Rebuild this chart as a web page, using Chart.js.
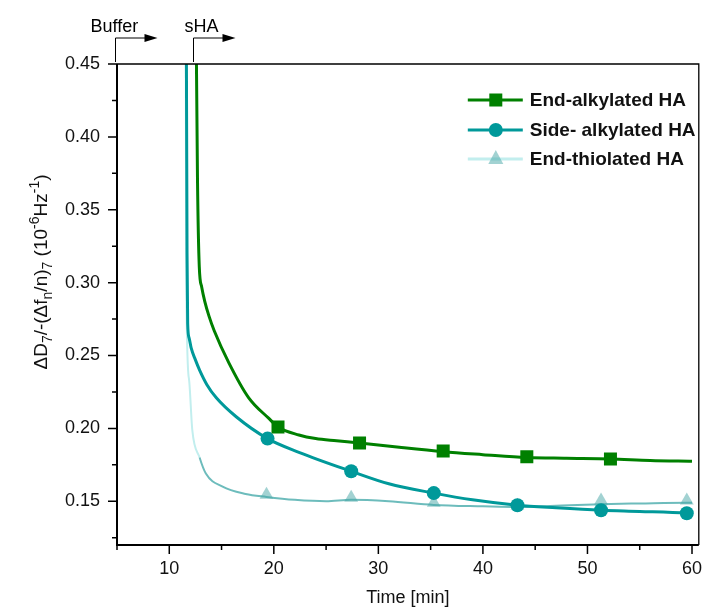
<!DOCTYPE html>
<html>
<head>
  <meta charset="utf-8">
  <title>Dissipation ratio vs time</title>
  <script src="https://cdn.jsdelivr.net/npm/chart.js"></script>
  <style>
    body { margin: 0; background: #fff; }
    .chart-container { width: 708px; height: 612px; }
  </style>
</head>
<body>
  <div class="chart-container">
    <canvas id="ratioChart" width="708" height="612"></canvas>
  </div>

  <script>
    // ---------------------------
    // Data
    // ---------------------------
    // End-alkylated HA (green, squares)
    const endAlkTime  = [12.55, 12.6, 12.7, 12.87, 13.1, 13.4, 13.8, 14.3, 15.7, 17.6, 19.5, 20.4, 22.4, 24, 26, 28.2, 32, 36.2, 40, 44.2, 48, 52.2, 56, 60];
    const endAlkRatio = [0.50, 0.45, 0.37, 0.311, 0.297, 0.287, 0.277, 0.267, 0.245, 0.221, 0.207, 0.201, 0.1955, 0.193, 0.1915, 0.190, 0.187, 0.184, 0.182, 0.180, 0.1795, 0.179, 0.178, 0.1775];
    const endAlkMarkTime  = [20.4, 28.2, 36.2, 44.2, 52.2];
    const endAlkMarkRatio = [0.201, 0.190, 0.1845, 0.1805, 0.179];

    // Side-alkylated HA (teal, circles)
    const sideAlkTime  = [11.55, 11.64, 11.7, 11.76, 11.9, 12.1, 12.5, 12.9, 13.6, 14.5, 16.4, 19.4, 22.4, 27.4, 31, 35.3, 39, 43.3, 47, 51.3, 55, 59.5, 60];
    const sideAlkRatio = [0.50, 0.45, 0.32, 0.272, 0.262, 0.255, 0.247, 0.240, 0.230, 0.221, 0.208, 0.193, 0.1836, 0.1706, 0.162, 0.1556, 0.151, 0.1473, 0.1455, 0.1438, 0.143, 0.1418, 0.1415];
    const sideAlkMarkTime  = [19.4, 27.4, 35.3, 43.3, 51.3, 59.5];
    const sideAlkMarkRatio = [0.193, 0.1706, 0.1556, 0.1473, 0.1438, 0.1418];

    // End-thiolated HA (light teal, triangles)
    const endThioTime  = [11.58, 11.62, 11.9, 12.2, 12.9, 13.5, 15.1, 17.3, 19.3, 22, 25, 27.4, 31, 35.3, 40, 43.3, 47, 51.3, 55, 59.5, 60];
    const endThioRatio = [0.45, 0.30, 0.233, 0.199, 0.180, 0.169, 0.160, 0.155, 0.153, 0.151, 0.150, 0.151, 0.150, 0.1475, 0.1465, 0.146, 0.147, 0.148, 0.1485, 0.149, 0.149];
    const endThioMarkTime  = [19.3, 27.4, 35.3, 43.3, 51.3, 59.5];
    const endThioMarkRatio = [0.1545, 0.1525, 0.149, 0.147, 0.1505, 0.1505];

    // Axis ticks
    const xTicks = [10, 20, 30, 40, 50, 60];
    const xMinorTicks = [5, 15, 25, 35, 45, 55];
    const yTicks = [0.15, 0.20, 0.25, 0.30, 0.35, 0.40, 0.45];
    const yMinorTicks = [0.125, 0.175, 0.225, 0.275, 0.325, 0.375, 0.425];

    // Injection marks (time where each step starts)
    const stepLabels = ["Buffer", "sHA"];
    const stepTimes = [4.8, 12.3];

    const legendLabels = ["End-alkylated HA", "Side- alkylated HA", "End-thiolated HA"];

    const FONT = "'Liberation Sans', Arial, sans-serif";
    const GREEN = '#008000';
    const TEAL = '#00999a';
    const THIO = 'rgba(60,165,165,0.75)';
    const THIO_LIGHT = '#c2eeee';
    const THIO_MARK = 'rgba(70,165,165,0.5)';

    function pts(xs, ys) {
      return xs.map(function(x, i) { return { x: x, y: ys[i] }; });
    }

    // draws the box, ticks, y title, step arrows and legend
    const decorPlugin = {
      id: 'decor',
      afterDraw(chart) {
        const ctx = chart.ctx;
        const a = chart.chartArea;
        const xs = chart.scales.x, ys = chart.scales.y;
        ctx.save();

        // frame
        ctx.strokeStyle = '#000';
        ctx.lineWidth = 1.3;
        ctx.beginPath();
        ctx.moveTo(a.left, a.top); ctx.lineTo(a.right, a.top); ctx.lineTo(a.right, a.bottom);
        ctx.stroke();
        ctx.lineWidth = 2;
        ctx.beginPath();
        ctx.moveTo(a.left, a.top); ctx.lineTo(a.left, a.bottom); ctx.lineTo(a.right, a.bottom);
        ctx.stroke();

        // ticks
        ctx.lineWidth = 1.5;
        ctx.beginPath();
        yTicks.forEach(function(v) { const y = ys.getPixelForValue(v); ctx.moveTo(a.left - 9, y); ctx.lineTo(a.left, y); });
        yMinorTicks.forEach(function(v) { const y = ys.getPixelForValue(v); ctx.moveTo(a.left - 5, y); ctx.lineTo(a.left, y); });
        xTicks.forEach(function(v) { const x = xs.getPixelForValue(v); ctx.moveTo(x, a.bottom); ctx.lineTo(x, a.bottom + 9); });
        xMinorTicks.forEach(function(v) { const x = xs.getPixelForValue(v); ctx.moveTo(x, a.bottom); ctx.lineTo(x, a.bottom + 5); });
        ctx.stroke();

        // step arrows above the plot
        ctx.lineWidth = 1;
        ctx.fillStyle = '#000';
        ctx.font = '18px ' + FONT;
        ctx.textBaseline = 'alphabetic';
        stepTimes.forEach(function(t, i) {
          const x = Math.round(xs.getPixelForValue(t)) + 0.5;
          const yLine = a.top - 26;
          ctx.beginPath();
          ctx.moveTo(x, a.top - 2); ctx.lineTo(x, yLine); ctx.lineTo(x + 30, yLine);
          ctx.stroke();
          ctx.beginPath();
          ctx.moveTo(x + 42, yLine); ctx.lineTo(x + 29, yLine - 4); ctx.lineTo(x + 29, yLine + 4);
          ctx.closePath(); ctx.fill();
          ctx.textAlign = 'left';
          ctx.fillText(stepLabels[i], i === 0 ? x - 25 : x - 9, a.top - 32);
        });

        // y axis title with sub/superscripts
        const parts = [
          ['\u0394D', 0, 19], ['7', 5, 14], ['/-(\u0394f', 0, 19], ['n', 5, 14], ['/n)', 0, 19],
          ['7', 5, 14], [' (10', 0, 19], ['-6', -8, 14], ['Hz', 0, 19], ['-1', -8, 14], [')', 0, 19]
        ];
        let total = 0;
        parts.forEach(function(p) { ctx.font = p[2] + 'px ' + FONT; total += ctx.measureText(p[0]).width; });
        ctx.translate(47, 272);
        ctx.rotate(-Math.PI / 2);
        ctx.fillStyle = '#111';
        let cx = -total / 2;
        parts.forEach(function(p) {
          ctx.font = p[2] + 'px ' + FONT;
          ctx.fillText(p[0], cx, p[1]);
          cx += ctx.measureText(p[0]).width;
        });
        ctx.setTransform(1, 0, 0, 1, 0, 0);

        // legend
        const lx0 = a.right - 231, lx1 = a.right - 176, mx = a.right - 203, tx = a.right - 169;
        const rows = [a.top + 36, a.top + 66, a.top + 95];
        const lineCols = [GREEN, TEAL, THIO_LIGHT];
        rows.forEach(function(y, i) {
          ctx.strokeStyle = lineCols[i];
          ctx.lineWidth = 3;
          ctx.beginPath(); ctx.moveTo(lx0, y); ctx.lineTo(lx1, y); ctx.stroke();
          if (i === 0) {
            ctx.fillStyle = GREEN; ctx.fillRect(mx - 6.5, y - 6.5, 13, 13);
          } else if (i === 1) {
            ctx.fillStyle = TEAL; ctx.beginPath(); ctx.arc(mx, y, 7, 0, Math.PI * 2); ctx.fill();
          } else {
            ctx.fillStyle = THIO_MARK; ctx.beginPath();
            ctx.moveTo(mx, y - 9); ctx.lineTo(mx + 7.5, y + 5); ctx.lineTo(mx - 7.5, y + 5);
            ctx.closePath(); ctx.fill();
          }
          ctx.fillStyle = '#111';
          ctx.font = 'bold 19px ' + FONT;
          ctx.textAlign = 'left';
          ctx.textBaseline = 'middle';
          ctx.fillText(legendLabels[i], tx, y + 1);
        });
        ctx.restore();
      }
    };

    const ctxRatio = document.getElementById('ratioChart').getContext('2d');
    const ratioChart = new Chart(ctxRatio, {
      type: 'scatter',
      data: {
        datasets: [
          {
            label: legendLabels[0],
            data: pts(endAlkMarkTime, endAlkMarkRatio),
            pointStyle: 'rect', pointRadius: 9.2, pointHoverRadius: 9.2,
            backgroundColor: GREEN, borderWidth: 0, showLine: false, order: 1
          },
          {
            label: legendLabels[0] + ' line',
            data: pts(endAlkTime, endAlkRatio),
            showLine: true, borderColor: GREEN, borderWidth: 3, pointRadius: 0,
            cubicInterpolationMode: 'monotone', order: 2
          },
          {
            label: legendLabels[1],
            data: pts(sideAlkMarkTime, sideAlkMarkRatio),
            pointStyle: 'circle', pointRadius: 7, pointHoverRadius: 7,
            backgroundColor: TEAL, borderWidth: 0, showLine: false, order: 3
          },
          {
            label: legendLabels[1] + ' line',
            data: pts(sideAlkTime, sideAlkRatio),
            showLine: true, borderColor: TEAL, borderWidth: 3, pointRadius: 0,
            cubicInterpolationMode: 'monotone', order: 4
          },
          {
            label: legendLabels[2],
            data: pts(endThioMarkTime, endThioMarkRatio),
            pointStyle: 'triangle', pointRadius: 8, pointHoverRadius: 8,
            backgroundColor: THIO_MARK, borderWidth: 0, showLine: false, order: 5
          },
          {
            label: legendLabels[2] + ' line',
            data: pts(endThioTime, endThioRatio),
            showLine: true, borderWidth: 2, pointRadius: 0, borderColor: THIO,
            segment: {
              borderColor: function(c) { return c.p0.parsed.x < 12.8 ? THIO_LIGHT : THIO; }
            },
            cubicInterpolationMode: 'monotone', order: 6
          }
        ]
      },
      options: {
        responsive: false,
        animation: false,
        devicePixelRatio: 1,
        layout: { padding: { top: 64, right: 5, left: 0, bottom: 0 } },
        plugins: {
          legend: { display: false },
          tooltip: { enabled: false }
        },
        scales: {
          x: {
            type: 'linear',
            min: 5,
            max: 60.65,
            afterBuildTicks: function(s) { s.ticks = xTicks.map(function(v) { return { value: v }; }); },
            afterFit: function(s) { s.height = 67; },
            grid: { drawOnChartArea: false, drawTicks: true, tickLength: 9, color: 'transparent', tickColor: 'transparent' },
            border: { display: false },
            ticks: {
              padding: 4, autoSkip: false, maxRotation: 0, color: '#111',
              font: { family: FONT, size: 18 },
              callback: function(v) { return String(v); }
            },
            title: {
              display: true, text: 'Time [min]', color: '#111',
              font: { family: FONT, size: 18 },
              padding: { top: 0, bottom: 3 }
            }
          },
          y: {
            type: 'linear',
            min: 0.12,
            max: 0.45,
            afterBuildTicks: function(s) { s.ticks = yTicks.map(function(v) { return { value: v }; }); },
            afterFit: function(s) { s.width = 117; },
            grid: { drawOnChartArea: false, drawTicks: true, tickLength: 9, color: 'transparent', tickColor: 'transparent' },
            border: { display: false },
            ticks: {
              padding: 8, color: '#111',
              font: { family: FONT, size: 18 },
              callback: function(v) { return Number(v).toFixed(2); }
            }
          }
        }
      },
      plugins: [decorPlugin]
    });
  </script>
</body>
</html>
